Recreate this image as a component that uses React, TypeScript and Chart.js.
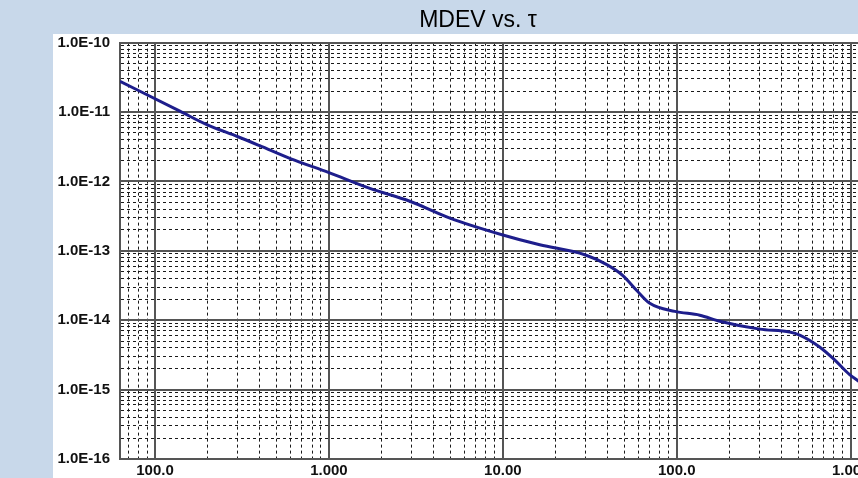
import { useEffect, useRef } from "react";
import { Chart, registerables } from "chart.js";
Chart.register(...registerables);

// Averaging time tau (s) and MDEV values
const tauValues = [0.0629, 0.139, 0.2, 0.3, 0.4, 0.6, 1.0, 1.72, 2.92, 4.96, 10, 16.3, 29.6, 39.6, 49.0, 58.9, 70.0, 97.5, 135.6, 176.6, 300, 446, 509, 663, 809, 987, 1082, 1200];
const mdevValues = [2.77e-11, 1.03e-11, 6.52e-12, 4.4e-12, 3.27e-12, 2.13e-12, 1.34e-12, 7.94e-13, 5.18e-13, 2.96e-13, 1.69e-13, 1.22e-13, 8.77e-14, 6.31e-14, 4.4e-14, 2.68e-14, 1.75e-14, 1.34e-14, 1.18e-14, 9.68e-15, 7.44e-15, 6.74e-15, 6.1e-15, 4.11e-15, 2.68e-15, 1.64e-15, 1.39e-15, 1.15e-15];

const xMajorValues = [0.01, 0.1, 1, 10, 100, 1000];
const xMajorLabels = ["10.00", "100.0", "1.000", "10.00", "100.0", "1.000"];
const yMajorValues = [1e-16, 1e-15, 1e-14, 1e-13, 1e-12, 1e-11, 1e-10];
const yMajorLabels = ["1.0E-16", "1.0E-15", "1.0E-14", "1.0E-13", "1.0E-12", "1.0E-11", "1.0E-10"];
const minorMultipliers = [2, 3, 4, 5, 6, 7, 8, 9];

const xMin = 0.0629;
const xMax = 2000;
const yMin = 1e-16;
const yMax = 1e-10;

const TITLE = "MDEV vs. τ";
const FONT = 'Arial, "Liberation Sans", sans-serif';

function logTicks(majors: number[], min: number, max: number) {
  const out: { value: number; major: boolean }[] = [];
  const eps = 1e-9;
  for (const m of majors) {
    const vals = [{ value: m, major: true }, ...minorMultipliers.map((k) => ({ value: m * k, major: false }))];
    for (const t of vals) {
      const lv = Math.log10(t.value);
      if (lv >= Math.log10(min) - eps && lv <= Math.log10(max) + eps) out.push(t);
    }
  }
  out.sort((a, b) => a.value - b.value);
  return out;
}

function labelFor(v: number, majors: number[], labels: string[]) {
  for (let i = 0; i < majors.length; i++) {
    if (Math.abs(Math.log10(v) - Math.log10(majors[i])) < 1e-6) return labels[i];
  }
  return "";
}

const panelPlugin = {
  id: "panel",
  beforeDraw(chart: any) {
    const { ctx, width, height } = chart;
    ctx.save();
    ctx.fillStyle = "#ffffff";
    ctx.fillRect(0, 34, width, height - 34);
    ctx.restore();
  },
};

const MAJOR_COLOR = "#555555";
const MINOR_COLOR = "#1a1a1a";

export default function App() {
  const ref = useRef<HTMLCanvasElement>(null);
  useEffect(() => {
    document.body.style.margin = "0";
    const data = tauValues.map((t, i) => ({ x: t, y: mdevValues[i] }));
    const gridOpts = {
      drawTicks: false,
      color: (c: any) => (c.tick && !c.tick.major ? MINOR_COLOR : MAJOR_COLOR),
      lineWidth: (c: any) => (c.tick && !c.tick.major ? 1 : 2),
    };
    const borderOpts = {
      display: true,
      color: MAJOR_COLOR,
      width: 2,
      dash: (c: any) => (c.tick && !c.tick.major ? [3, 3] : []),
    };
    const chart = new Chart(ref.current!, {
      type: "line",
      data: {
        datasets: [
          {
            label: "MDEV",
            data,
            borderColor: "#1e1e8c",
            borderWidth: 3,
            pointRadius: 0,
            fill: false,
            cubicInterpolationMode: "monotone",
          },
        ],
      },
      options: {
        animation: false,
        responsive: false,
        layout: { padding: { left: 0, right: 10, top: 0, bottom: 0 } },
        plugins: {
          legend: { display: false },
          tooltip: { enabled: false },
          title: {
            display: true,
            text: TITLE,
            color: "#000",
            font: { family: FONT, size: 23, weight: "normal" },
            padding: { top: 7, bottom: 8 },
          },
        },
        scales: {
          x: {
            type: "logarithmic",
            min: xMin,
            max: xMax,
            afterBuildTicks: (scale: any) => {
              scale.ticks = logTicks(xMajorValues, xMin, xMax);
            },
            afterFit: (scale: any) => {
              scale.height = 16;
            },
            grid: gridOpts,
            border: borderOpts,
            ticks: {
              autoSkip: false,
              maxRotation: 0,
              minRotation: 0,
              padding: 3,
              color: "#111",
              font: { family: FONT, size: 15, weight: "bold" },
              callback: (v: any) => labelFor(Number(v), xMajorValues, xMajorLabels),
            },
          },
          y: {
            type: "logarithmic",
            min: yMin,
            max: yMax,
            afterBuildTicks: (scale: any) => {
              scale.ticks = logTicks(yMajorValues, yMin, yMax);
            },
            afterFit: (scale: any) => {
              scale.width = 67;
            },
            grid: gridOpts,
            border: borderOpts,
            ticks: {
              autoSkip: false,
              padding: 10,
              color: "#111",
              font: { family: FONT, size: 15, weight: "bold" },
              callback: (v: any) => labelFor(Number(v), yMajorValues, yMajorLabels),
            },
          },
        },
      } as any,
      plugins: [panelPlugin],
    });
    return () => chart.destroy();
  }, []);
  return (
    <div
      style={{
        position: "fixed",
        left: 0,
        top: 0,
        width: 858,
        height: 478,
        overflow: "hidden",
        background: "#c8d8ea",
      }}
    >
      <canvas
        ref={ref}
        width={860}
        height={478}
        style={{ position: "absolute", left: 53, top: 0, width: 860, height: 478 }}
      />
    </div>
  );
}
